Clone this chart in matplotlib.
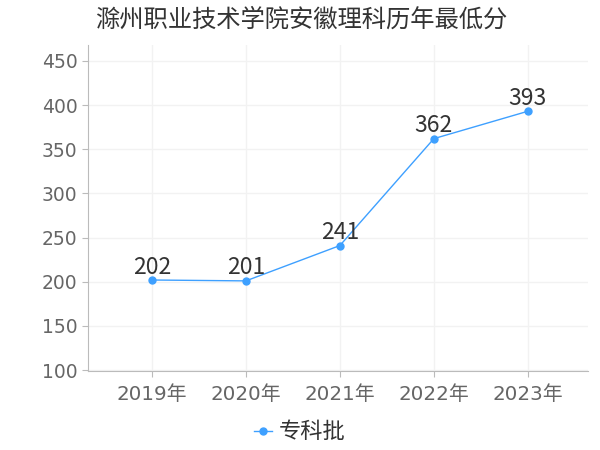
import matplotlib
matplotlib.use("Agg")
import matplotlib.pyplot as plt

plt.rcParams["font.family"] = ["DejaVu Sans", "Noto Sans CJK SC"]

years = ["2019年", "2020年", "2021年", "2022年", "2023年"]
scores = [202, 201, 241, 362, 393]
series_name = "专科批"
title = "滁州职业技术学院安徽理科历年最低分"
yticks = [100, 150, 200, 250, 300, 350, 400, 450]

line_color = "#3ea0ff"
cjk = ["Noto Sans CJK SC", "DejaVu Sans"]

fig = plt.figure(figsize=(6, 4.5), dpi=100)
ax = fig.add_axes([88 / 600, 1 - 371 / 450, 500 / 600, 326 / 450])

x = list(range(len(years)))
ax.plot(x, scores, color=line_color, linewidth=1, marker="o", markersize=5,
        label=series_name)
for xi, v in zip(x, scores):
    ax.annotate(str(v), (xi, v), xytext=(0, 1), textcoords="offset points",
                ha="center", va="bottom", fontsize=16.5, color="#333333", family=cjk)

ax.set_xlim(-0.68, 4.64)
ax.set_ylim(99, 468)
ax.set_xticks(x)
ax.set_xticklabels(years, family=["DejaVu Sans", "Noto Sans CJK SC"])
ax.set_yticks(yticks)
ax.tick_params(axis="both", labelcolor="#666666", color="#bbbbbb", length=4)
ax.tick_params(axis="y", labelsize=13.5)
ax.tick_params(axis="x", labelsize=14.3, pad=6)
ax.grid(True, color="#f2f2f2", linewidth=1)
ax.set_axisbelow(True)
for side in ["top", "right"]:
    ax.spines[side].set_visible(False)
for side in ["left", "bottom"]:
    ax.spines[side].set_color("#bbbbbb")

fig.text(301 / 600, 1 - 20 / 450, title, ha="center", va="center", fontsize=17.5,
         color="#333333", family=cjk)
fig.legend(loc="center", bbox_to_anchor=(0.5, 1 - 432 / 450), frameon=False,
           handlelength=0.8, handletextpad=0.3, prop={"family": cjk, "size": 16},
           labelcolor="#333333")

fig.savefig("out.png", dpi=100)
